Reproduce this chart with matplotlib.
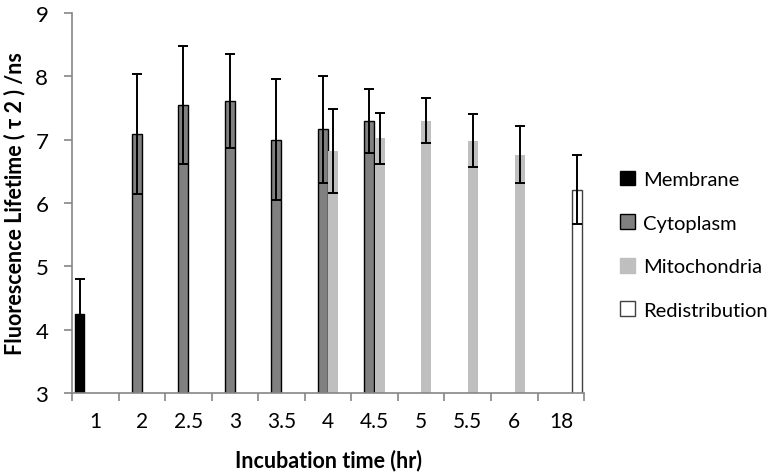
import numpy as np
import matplotlib.pyplot as plt
from matplotlib.patches import Patch

categorias = ["1", "2", "2.5", "3", "3.5", "4", "4.5", "5", "5.5", "6", "18"]

membrane = [4.25, None, None, None, None, None, None, None, None, None, None]
membrane_err = [0.55, None, None, None, None, None, None, None, None, None, None]

cytoplasm = [None, 7.09, 7.54, 7.61, 7.00, 7.16, 7.29, None, None, None, None]
cytoplasm_err = [None, 0.95, 0.93, 0.74, 0.96, 0.85, 0.51, None, None, None, None]

mitochondria = [None, None, None, None, None, 6.82, 7.02, 7.30, 6.98, 6.76, None]
mitochondria_err = [None, None, None, None, None, 0.66, 0.40, 0.36, 0.42, 0.45, None]

redistribution = [None, None, None, None, None, None, None, None, None, None, 6.21]
redistribution_err = [None, None, None, None, None, None, None, None, None, None, 0.55]

series = [
    ("Membrane", membrane, membrane_err, "black", "black"),
    ("Cytoplasm", cytoplasm, cytoplasm_err, "#808080", "black"),
    ("Mitochondria", mitochondria, mitochondria_err, "#bfbfbf", "none"),
    ("Redistribution", redistribution, redistribution_err, "white", "#404040"),
]

plt.rcParams["font.family"] = ["Lato", "DejaVu Sans"]

fig = plt.figure(figsize=(7.82, 4.77), dpi=100)
ax = fig.add_axes([0.092, 0.174, 0.655, 0.797])

x = np.arange(len(categorias))
largura = 0.225
handles = []

for i, (nome, valores, erros, cor, borda) in enumerate(series):
    idx = [k for k, v in enumerate(valores) if v is not None]
    pos = x[idx] + (i - 1.5) * largura
    alturas = [valores[k] for k in idx]
    errs = [erros[k] for k in idx]
    ax.bar(pos, alturas, width=largura * 0.95, color=cor,
           edgecolor=borda, linewidth=1.0, zorder=2)
    ax.errorbar(pos, alturas, yerr=errs, fmt="none", ecolor="black",
                elinewidth=1.4, capsize=3.5, capthick=1.4, zorder=3)
    handles.append(Patch(facecolor=cor,
                         edgecolor=borda if borda != "none" else cor,
                         label=nome))

ax.set_ylim(3, 9)
ax.set_xlim(-0.5, len(categorias) - 0.5)
ax.set_yticks(range(3, 10))

ax.set_xticks(x)
ax.set_xticklabels(categorias)
ax.set_xticks(np.arange(-0.5, len(categorias)), minor=True)
ax.tick_params(axis="x", which="major", length=0, pad=13, labelsize=15)
ax.tick_params(axis="x", which="minor", length=6, direction="out",
               color="#868686", width=1.2)
ax.tick_params(axis="y", length=6, direction="out", color="#868686",
               width=1.2, labelsize=16, pad=11)

for lado in ["top", "right"]:
    ax.spines[lado].set_visible(False)
for lado in ["left", "bottom"]:
    ax.spines[lado].set_color("#868686")
    ax.spines[lado].set_linewidth(1.2)

ax.set_ylabel("Fluorescence Lifetime ( τ 2 ) /ns", fontsize=15.5,
              fontweight="bold", labelpad=7)
ax.set_xlabel("Incubation time (hr)", fontsize=15.5, fontweight="bold",
              labelpad=13)

ax.legend(handles=handles, loc="center left", bbox_to_anchor=(1.035, 0.39),
          frameon=False, fontsize=14.5, labelspacing=1.3,
          handlelength=0.75, handleheight=0.75, handletextpad=0.4)

fig.savefig("out.png", dpi=100)
